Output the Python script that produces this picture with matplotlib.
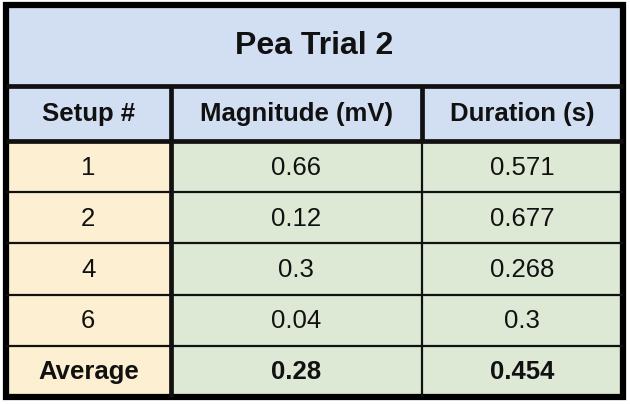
import matplotlib.pyplot as plt
from matplotlib.patches import Rectangle

plt.rcParams['font.family'] = ['Liberation Sans', 'DejaVu Sans']

title = "Pea Trial 2"
columns = ["Setup #", "Magnitude (mV)", "Duration (s)"]
setups = ["1", "2", "4", "6"]
magnitude = ["0.66", "0.12", "0.3", "0.04"]
duration = ["0.571", "0.677", "0.268", "0.3"]
average = ["Average", "0.28", "0.454"]

# layout in pixels
col_edges = [6, 170.5, 421.5, 623]
title_top, title_bot, head_bot = 5, 85.5, 141
row_h = 51.2
blue = '#d2def1'
peach = '#fdf0d2'
green = '#dde8d5'
ink = '#111111'

fig = plt.figure(figsize=(6.3, 4.04), dpi=100)
ax = fig.add_axes([0, 0, 1, 1])
ax.set_xlim(0, 630)
ax.set_ylim(404, 0)
ax.axis('off')

rows = [list(r) for r in zip(setups, magnitude, duration)] + [average]
bottom = head_bot + row_h * len(rows)
left, right = col_edges[0], col_edges[-1]

# title band
ax.add_patch(Rectangle((left, title_top), right - left, title_bot - title_top, color=blue, lw=0))
ax.text((left + right) / 2, (title_top + title_bot) / 2 + 1, title, ha='center', va='center',
        fontsize=23, fontweight='bold', color=ink)

# header row
for j, name in enumerate(columns):
    x0, x1 = col_edges[j], col_edges[j + 1]
    ax.add_patch(Rectangle((x0, title_bot), x1 - x0, head_bot - title_bot, color=blue, lw=0))
    ax.text((x0 + x1) / 2, (title_bot + head_bot) / 2 + 1, name, ha='center', va='center',
            fontsize=18.5, fontweight='bold', color=ink)

# body rows
for i, row in enumerate(rows):
    y0 = head_bot + i * row_h
    bold = i == len(rows) - 1
    for j, val in enumerate(row):
        x0, x1 = col_edges[j], col_edges[j + 1]
        ax.add_patch(Rectangle((x0, y0), x1 - x0, row_h, color=peach if j == 0 else green, lw=0))
        ax.text((x0 + x1) / 2, y0 + row_h / 2 + 1, val, ha='center', va='center',
                fontsize=18.5, fontweight='bold' if bold else 'normal', color=ink)

# grid lines
thin, thick = 1.6, 3.4
for i in range(1, len(rows)):
    y = head_bot + i * row_h
    ax.plot([left, right], [y, y], color=ink, lw=thin, solid_capstyle='butt')
ax.plot([col_edges[2]] * 2, [head_bot, bottom], color=ink, lw=thin, solid_capstyle='butt')
ax.plot([col_edges[2]] * 2, [title_bot, head_bot], color=ink, lw=thick, solid_capstyle='butt')
ax.plot([col_edges[1]] * 2, [title_bot, bottom], color=ink, lw=thick, solid_capstyle='butt')
for y in [title_bot, head_bot]:
    ax.plot([left, right], [y, y], color=ink, lw=thick, solid_capstyle='butt')

# outer frame
ax.add_patch(Rectangle((left, title_top), right - left, bottom - title_top, fill=False,
                       ec='black', lw=4.5, joinstyle='miter'))

fig.savefig('out.png', dpi=100)
